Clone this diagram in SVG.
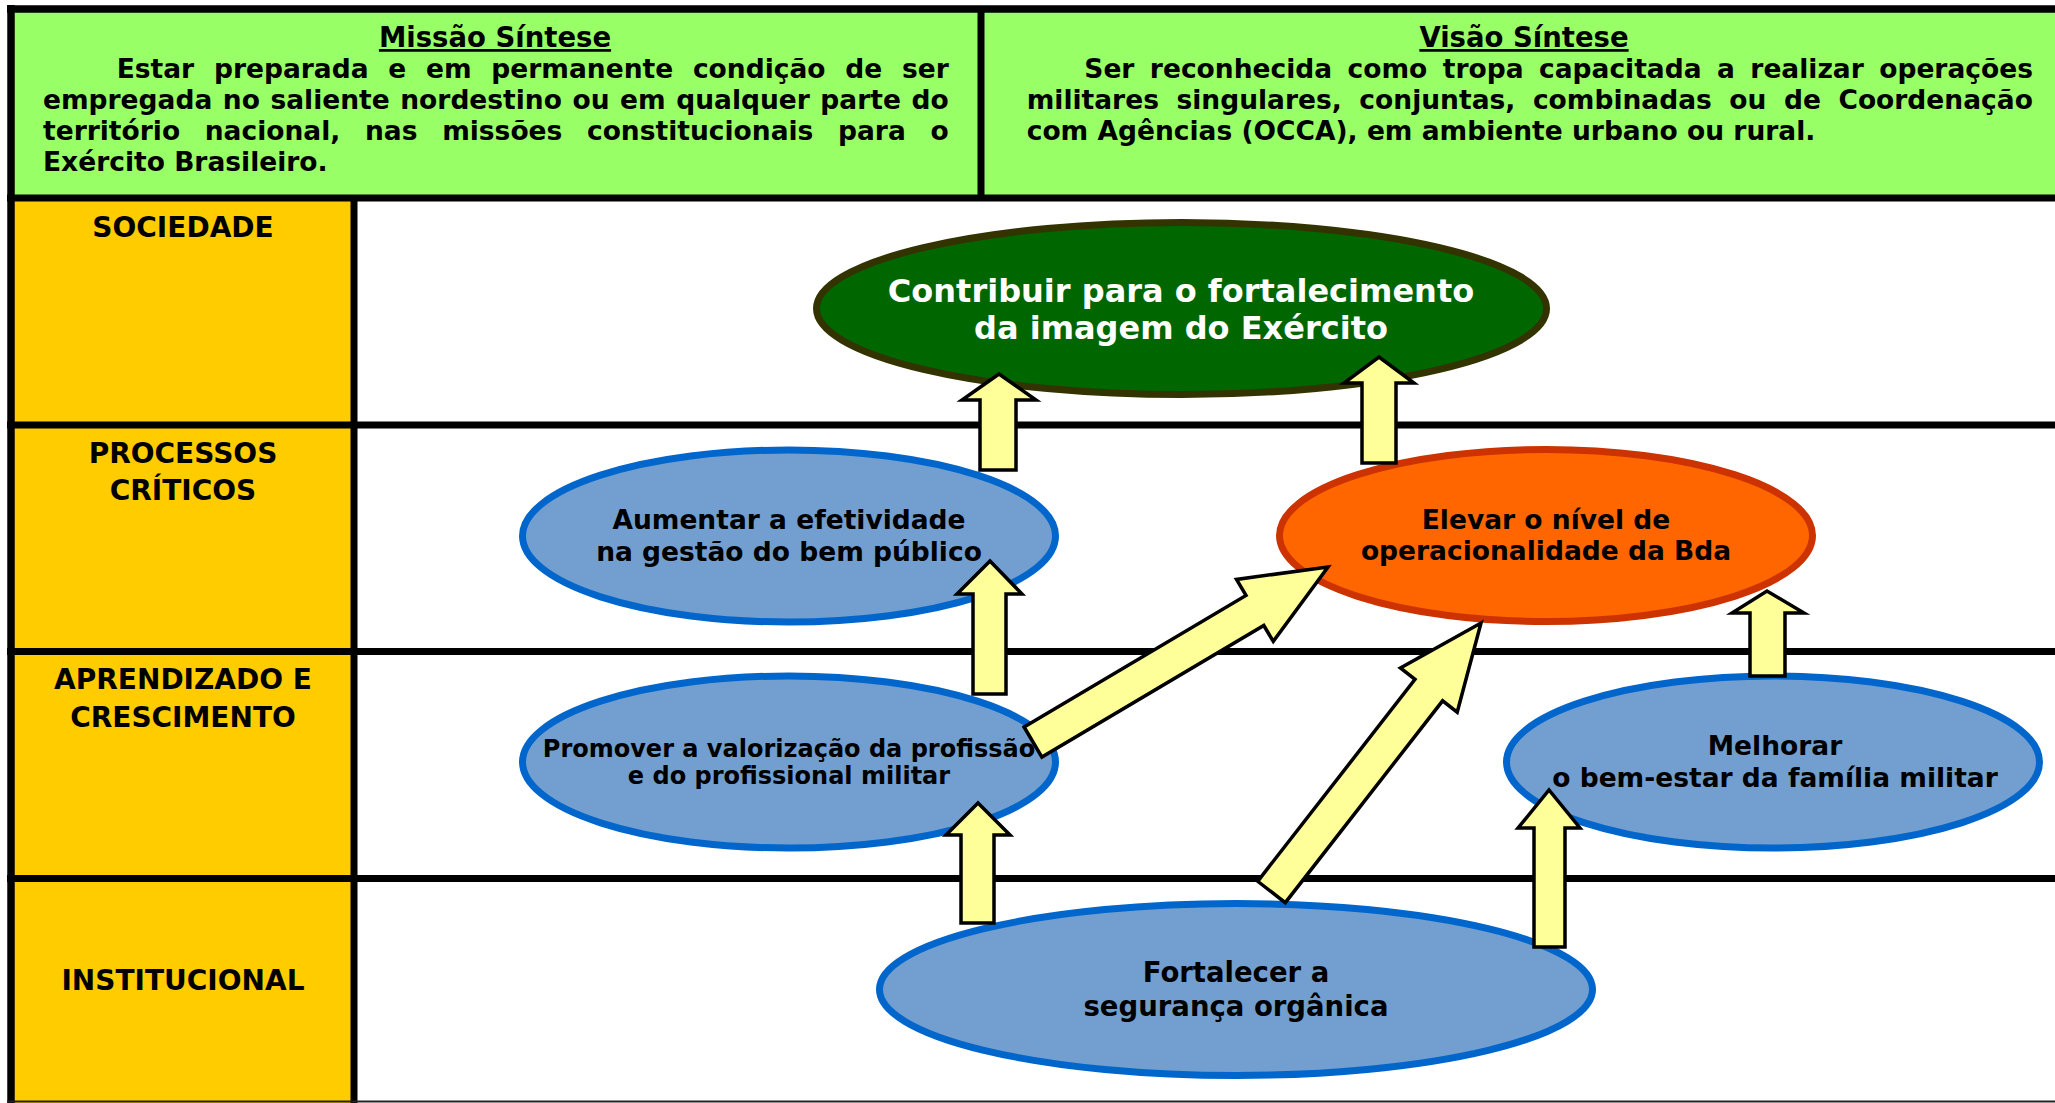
<svg xmlns="http://www.w3.org/2000/svg" width="2055" height="1103" viewBox="0 0 2055 1103">
<style>
text{font-family:"DejaVu Sans","Liberation Sans",sans-serif;font-weight:bold;fill:#000}
.hdr{font-size:26.5px}
.ttl{font-size:27.5px;text-decoration:underline;text-anchor:middle}
.lbl{font-size:28px;text-anchor:middle}
.nt{text-anchor:middle;font-size:26.5px}
.blue{fill:#729FCF;stroke:#0066CC;stroke-width:7}
.grid{stroke:#000;stroke-width:7;fill:none}
.arrow{fill:#FFFF99;stroke:#000;stroke-width:3.5;stroke-linejoin:miter}
</style>
<rect x="0" y="0" width="2055" height="1103" fill="#fff"/>
<g id="header">
<rect x="11" y="9" width="2044" height="189" fill="#99FF66"/>
<g id="missao">
<text class="hdr ttl" x="495" y="47">Missão Síntese</text>
<text class="hdr" x="116.7" y="78" word-spacing="10.5">Estar preparada e em permanente condição de ser</text>
<text class="hdr" x="43" y="109" word-spacing="1.3">empregada no saliente nordestino ou em qualquer parte do</text>
<text class="hdr" x="43" y="140" word-spacing="15.4">território nacional, nas missões constitucionais para o</text>
<text class="hdr" x="43" y="171">Exército Brasileiro.</text>
</g>
<g id="visao">
<text class="hdr ttl" x="1524" y="47">Visão Síntese</text>
<text class="hdr" x="1084.3" y="78" word-spacing="6.2">Ser reconhecida como tropa capacitada a realizar operações</text>
<text class="hdr" x="1026.7" y="109" word-spacing="8.3">militares singulares, conjuntas, combinadas ou de Coordenação</text>
<text class="hdr" x="1026.7" y="140">com Agências (OCCA), em ambiente urbano ou rural.</text>
</g>
</g>
<g id="rowlabels">
<rect x="11" y="198" width="343" height="905" fill="#FFCC00"/>
<text class="lbl" x="183" y="237">SOCIEDADE</text>
<text class="lbl" x="183" y="463">PROCESSOS</text>
<text class="lbl" x="183" y="500">CRÍTICOS</text>
<text class="lbl" x="183" y="689">APRENDIZADO E</text>
<text class="lbl" x="183" y="727">CRESCIMENTO</text>
<text class="lbl" x="183" y="990">INSTITUCIONAL</text>
</g>
<g id="grid" class="grid">
<line x1="7" y1="9" x2="2055" y2="9" stroke-width="7.5"/>
<line x1="11" y1="5" x2="11" y2="1103" stroke-width="7.5"/>
<line x1="7" y1="198" x2="2055" y2="198"/>
<line x1="981" y1="9" x2="981" y2="198"/>
<line x1="354" y1="198" x2="354" y2="1103"/>
<line x1="7" y1="425" x2="2055" y2="425"/>
<line x1="7" y1="651.5" x2="2055" y2="651.5"/>
<line x1="7" y1="878.5" x2="2055" y2="878.5"/>
<line x1="7" y1="1101.5" x2="2055" y2="1101.5" stroke-width="2" stroke="#222"/>
</g>
<g id="node-imagem">
<ellipse cx="1181.5" cy="308.5" rx="365" ry="86" fill="#006600" stroke="#333300" stroke-width="7"/>
<text class="nt" x="1181" y="301.5" style="fill:#fff;font-size:32px">Contribuir para o fortalecimento</text>
<text class="nt" x="1181" y="338.5" style="fill:#fff;font-size:32px">da imagem do Exército</text>
</g>
<g id="node-efetividade">
<ellipse class="blue" cx="789" cy="536" rx="266.5" ry="86"/>
<text class="nt" x="789" y="529">Aumentar a efetividade</text>
<text class="nt" x="789" y="561">na gestão do bem público</text>
</g>
<g id="node-operacionalidade">
<ellipse cx="1546" cy="535.5" rx="266.5" ry="86" fill="#FF6600" stroke="#CC3300" stroke-width="7"/>
<text class="nt" x="1546" y="529">Elevar o nível de</text>
<text class="nt" x="1546" y="560">operacionalidade da Bda</text>
</g>
<g id="node-valorizacao">
<ellipse class="blue" cx="789" cy="762" rx="266.5" ry="86"/>
<text class="nt" x="789" y="757" style="font-size:24px">Promover a valorização da profissão</text>
<text class="nt" x="789" y="784" style="font-size:24px">e do profissional militar</text>
</g>
<g id="node-familia">
<ellipse class="blue" cx="1773" cy="762" rx="266.5" ry="86"/>
<text class="nt" x="1775" y="755">Melhorar</text>
<text class="nt" x="1775" y="787">o bem-estar da família militar</text>
</g>
<g id="node-seguranca">
<ellipse class="blue" cx="1236" cy="989.5" rx="356.5" ry="86"/>
<text class="nt" x="1236" y="982" style="font-size:27.5px">Fortalecer a</text>
<text class="nt" x="1236" y="1016" style="font-size:27.5px">segurança orgânica</text>
</g>
<g id="connectors">
<polygon class="arrow" points="980,470 980,400 962,400 999,374 1036,400 1016,400 1016,470"/>
<polygon class="arrow" points="1362,463 1362,383 1344,383 1379,357 1414,383 1396,383 1396,463"/>
<polygon class="arrow" points="973,694 973,594 957,594 990,561 1022,594 1006,594 1006,694"/>
<polygon class="arrow" points="961,923 961,835 946,835 978,803 1010,835 994,835 994,923"/>
<polygon class="arrow" points="1750,676 1750,613 1732,613 1767,591 1804,613 1785,613 1785,676"/>
<polygon class="arrow" points="1534,947 1534,828 1518,828 1549,790 1580,828 1565,828 1565,947"/>
<polygon class="arrow" points="1024.1,727 1246,595.4 1236.5,579.4 1328,567 1273.3,641.4 1263.8,625.5 1041.9,757.1"/>
<polygon class="arrow" points="1257.7,881.3 1415,679.4 1400.4,668 1481,623 1457.2,712.2 1442.6,700.8 1285.3,902.7"/>
</g>
</svg>
